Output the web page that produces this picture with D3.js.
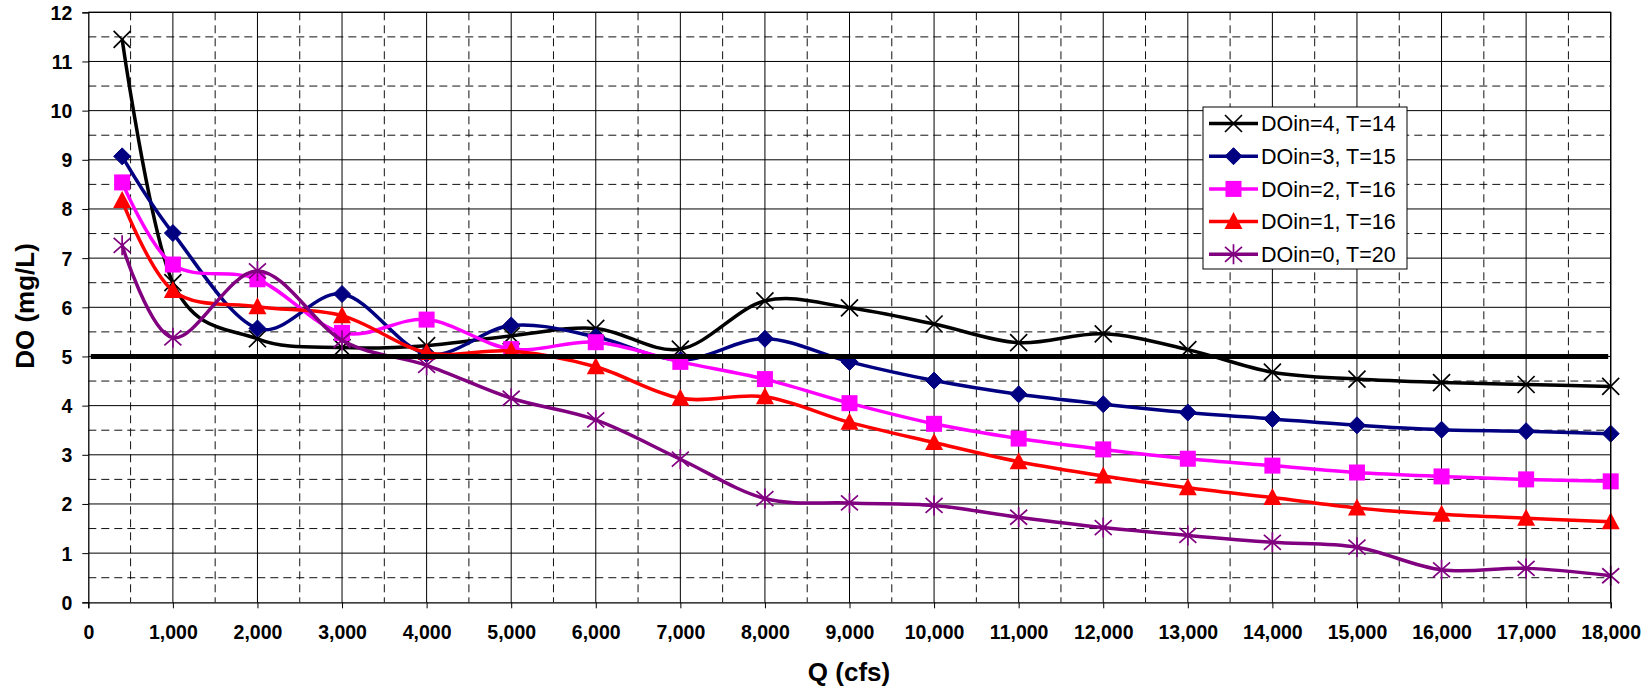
<!DOCTYPE html>
<html>
<head>
<meta charset="utf-8">
<script src="https://cdn.jsdelivr.net/npm/d3@7"></script>
<style>
  html, body { margin: 0; padding: 0; background: #fff; }
  svg { display: block; }
  text { font-family: Arial, "Liberation Sans", sans-serif; }
</style>
</head>
<body>
<svg id="chart" width="1650" height="692"></svg>
<script>
// ---- data ----
const qValues = [400, 1000, 2000, 3000, 4000, 5000, 6000, 7000, 8000, 9000, 10000, 11000, 12000, 13000, 14000, 15000, 16000, 17000, 18000];
const seriesNames = ["DOin=4, T=14", "DOin=3, T=15", "DOin=2, T=16", "DOin=1, T=16", "DOin=0, T=20"];
const do4 = [11.45, 6.5, 5.36, 5.18, 5.22, 5.42, 5.57, 5.15, 6.13, 5.99, 5.66, 5.28, 5.46, 5.14, 4.68, 4.54, 4.47, 4.43, 4.39];
const do3 = [9.07, 7.51, 5.57, 6.27, 5.05, 5.63, 5.4, 4.93, 5.36, 4.89, 4.51, 4.23, 4.03, 3.86, 3.73, 3.6, 3.51, 3.48, 3.43];
const do2 = [8.54, 6.87, 6.57, 5.48, 5.75, 5.15, 5.29, 4.89, 4.54, 4.05, 3.63, 3.33, 3.11, 2.92, 2.78, 2.64, 2.56, 2.5, 2.46];
const do1 = [8.17, 6.34, 6.01, 5.83, 5.08, 5.11, 4.79, 4.15, 4.18, 3.66, 3.25, 2.86, 2.57, 2.33, 2.13, 1.92, 1.79, 1.71, 1.64];
const do0 = [7.26, 5.38, 6.74, 5.33, 4.82, 4.15, 3.71, 2.91, 2.11, 2.02, 1.97, 1.73, 1.52, 1.36, 1.22, 1.12, 0.66, 0.69, 0.54];
const thresholdQ = [0, 18000];
const thresholdDO = [5, 5];
const xTicks = d3.range(0, 18001, 1000);
const yTicks = d3.range(0, 13, 1);
const xMinor = d3.range(500, 18000, 1000);
const yMinor = d3.range(0.5, 12, 1);

// ---- styles ----
const colors = ["#000000", "#000080", "#FF00FF", "#FF0000", "#800080"];
const markers = ["x", "diamond", "square", "triangle", "asterisk"];
const allSeries = [do4, do3, do2, do1, do0];

const svg = d3.select("#chart");
const L = 88.3, R = 1610.7, T = 12.3, B = 602.3;
const x = d3.scaleLinear().domain([0, 18000]).range([L, R]);
const y = d3.scaleLinear().domain([0, 12]).range([B, T]);

// gridlines
const grid = svg.append("g");
grid.selectAll(".vmin").data(xMinor).enter().append("line")
  .attr("x1", d => x(d)).attr("x2", d => x(d)).attr("y1", T).attr("y2", B)
  .attr("stroke", "#111").attr("stroke-width", 1).attr("stroke-dasharray", "8,5");
grid.selectAll(".hmin").data(yMinor).enter().append("line")
  .attr("y1", d => y(d)).attr("y2", d => y(d)).attr("x1", L).attr("x2", R)
  .attr("stroke", "#111").attr("stroke-width", 1).attr("stroke-dasharray", "8,5");
grid.selectAll(".vmaj").data(xTicks.slice(1)).enter().append("line")
  .attr("x1", d => x(d)).attr("x2", d => x(d)).attr("y1", T).attr("y2", B)
  .attr("stroke", "#000").attr("stroke-width", 1);
grid.selectAll(".hmaj").data(yTicks.slice(1)).enter().append("line")
  .attr("y1", d => y(d)).attr("y2", d => y(d)).attr("x1", L).attr("x2", R)
  .attr("stroke", "#000").attr("stroke-width", 1);

// axes
const xAxis = d3.axisBottom(x).tickValues(xTicks).tickSize(6).tickPadding(17)
  .tickFormat(d3.format(","));
const yAxis = d3.axisLeft(y).tickValues(yTicks).tickSize(6).tickPadding(10)
  .tickFormat(d3.format("d"));
const gx = svg.append("g").attr("transform", `translate(0,${B})`).call(xAxis);
const gy = svg.append("g").attr("transform", `translate(${L},0)`).call(yAxis);
[gx, gy].forEach(g => {
  g.select(".domain").attr("stroke", "#000").attr("stroke-width", 1.3);
  g.selectAll(".tick line").attr("stroke", "#000");
  g.selectAll(".tick text").attr("fill", "#000")
    .style("font-family", "Arial, 'Liberation Sans', sans-serif")
    .style("font-size", "19.5px").style("font-weight", "bold");
});
gy.selectAll(".tick text").attr("dy", "0.36em");

// axis titles
svg.append("text").attr("x", 849).attr("y", 681).attr("text-anchor", "middle")
  .style("font-size", "26px").style("font-weight", "bold").text("Q (cfs)");
svg.append("text").attr("transform", "translate(34,306) rotate(-90)")
  .attr("text-anchor", "middle")
  .style("font-size", "26px").style("font-weight", "bold").text("DO (mg/L)");

// marker drawing
function drawMarker(g, type, cx, cy, color) {
  const m = g.append("g").attr("transform", `translate(${cx},${cy})`);
  if (type === "x") {
    m.append("path").attr("d", "M-8.5,-8.5L8.5,8.5M-8.5,8.5L8.5,-8.5").attr("stroke", color).attr("stroke-width", 1.7).attr("fill", "none");
  } else if (type === "diamond") {
    m.append("path").attr("d", "M0,-8.5L8.5,0L0,8.5L-8.5,0Z").attr("fill", color).attr("stroke", color);
  } else if (type === "square") {
    m.append("rect").attr("x", -8).attr("y", -8).attr("width", 16).attr("height", 16).attr("fill", color);
  } else if (type === "triangle") {
    m.append("path").attr("d", "M0,-9.5L9,7.5L-9,7.5Z").attr("fill", color);
  } else if (type === "asterisk") {
    m.append("path").attr("d", "M-8.5,-7.5L8.5,7.5M-8.5,7.5L8.5,-7.5M0,-10L0,10").attr("stroke", color).attr("stroke-width", 1.7).attr("fill", "none");
  }
}

// series
const line = d3.line().x(d => x(d[0])).y(d => y(d[1])).curve(d3.curveCardinal.tension(0));
allSeries.forEach((vals, i) => {
  const pts = qValues.map((q, j) => [q, vals[j]]);
  const g = svg.append("g");
  g.append("path").datum(pts).attr("d", line)
    .attr("fill", "none").attr("stroke", colors[i]).attr("stroke-width", 3.5);
  pts.forEach(p => drawMarker(g, markers[i], x(p[0]), y(p[1]), colors[i]));
});

// threshold line
svg.append("line")
  .attr("x1", x(thresholdQ[0]) + 2.5).attr("x2", x(thresholdQ[1]) - 2.5)
  .attr("y1", y(thresholdDO[0])).attr("y2", y(thresholdDO[1]))
  .attr("stroke", "#000").attr("stroke-width", 5);

// frame (top/right)
svg.append("path").attr("d", `M${L},${T}H${R}V${B}`).attr("fill", "none").attr("stroke", "#000").attr("stroke-width", 1.3);

// legend
const lg = svg.append("g");
lg.append("rect").attr("x", 1203).attr("y", 107).attr("width", 204).attr("height", 162)
  .attr("fill", "#fff").attr("stroke", "#000").attr("stroke-width", 1);
seriesNames.forEach((name, i) => {
  const cy = 123.5 + i * 32.7;
  lg.append("line").attr("x1", 1209).attr("x2", 1258).attr("y1", cy).attr("y2", cy)
    .attr("stroke", colors[i]).attr("stroke-width", 3.5);
  drawMarker(lg, markers[i], 1233.5, cy, colors[i]);
  lg.append("text").attr("x", 1261).attr("y", cy).attr("dy", "0.36em")
    .style("font-size", "21.5px").attr("fill", "#000").text(name);
});
</script>
</body>
</html>
